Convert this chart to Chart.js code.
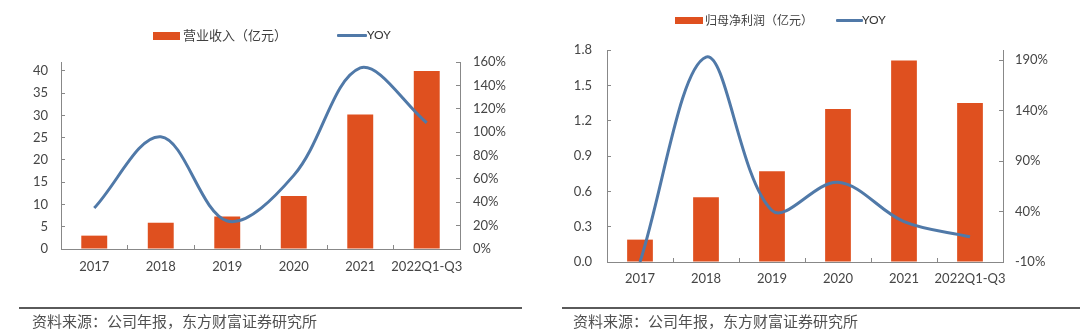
<!DOCTYPE html>
<html lang="zh-CN">
<head>
<meta charset="UTF-8">
<title>营业收入与归母净利润</title>
<script src="https://cdn.jsdelivr.net/npm/chart.js"></script>
<style>
  html, body { margin: 0; padding: 0; background: #fff; }
  body { width: 1080px; height: 334px; position: relative; overflow: hidden; font-family: "Noto Sans CJK SC", sans-serif; }
  .panel { position: absolute; top: 0; width: 540px; height: 334px; }
  .panel canvas { position: absolute; left: 0; top: 0; }
  .abs { position: absolute; white-space: nowrap; }
  .sw-bar { background: #df501f; }
  .sw-line { background: #5079a8; height: 3px; border-radius: 1px; }
  .leg-text { color: #404040; line-height: 16px; }
  .yoy { font-family: Lato, sans-serif; font-size: 12px; color: #333; line-height: 16px; }
  .rule { position: absolute; height: 2px; background: #5a5a5a; top: 307px; }
  .source { position: absolute; top: 311px; font-size: 15px; line-height: 20px; color: #505050; }
</style>
</head>
<body>

<!-- 左图：营业收入 -->
<div class="panel" style="left:0">
  <canvas id="revenueChart" width="540" height="334"></canvas>
  <div class="abs sw-bar" style="left:153px; top:32px; width:27px; height:8px"></div>
  <div class="abs leg-text" style="left:183px; top:27px; font-size:13px">营业收入（亿元）</div>
  <div class="abs sw-line" style="left:337px; top:34px; width:30px"></div>
  <div class="abs yoy" style="left:367px; top:27px">YOY</div>
  <div class="rule" style="left:19px; width:503px"></div>
  <div class="source" style="left:32px">资料来源：公司年报，东方财富证券研究所</div>
</div>

<!-- 右图：归母净利润 -->
<div class="panel" style="left:540px">
  <canvas id="profitChart" width="540" height="334"></canvas>
  <div class="abs sw-bar" style="left:135px; top:17px; width:28px; height:7px"></div>
  <div class="abs leg-text" style="left:165px; top:12px; font-size:12px">归母净利润（亿元）</div>
  <div class="abs sw-line" style="left:296px; top:19px; width:27px"></div>
  <div class="abs yoy" style="left:322px; top:12px">YOY</div>
  <div class="rule" style="left:22px; width:518px"></div>
  <div class="source" style="left:33px">资料来源：公司年报，东方财富证券研究所</div>
</div>

<script>
const years = ['2017', '2018', '2019', '2020', '2021', '2022Q1-Q3'];

// 营业收入（亿元）及同比
const revenue = [3.0, 5.9, 7.3, 11.9, 30.2, 40.0];
const revenueYoy = [35, 96, 24, 63, 155, 108];
const revenueTicks = [0, 5, 10, 15, 20, 25, 30, 35, 40];
const revenueYoyTicks = [0, 20, 40, 60, 80, 100, 120, 140, 160];

// 归母净利润（亿元）及同比
const profit = [0.19, 0.55, 0.77, 1.30, 1.71, 1.35];
const profitYoy = [-10, 193, 41, 69, 30, 15];
const profitTicks = [0, 0.3, 0.6, 0.9, 1.2, 1.5, 1.8];
const profitYoyTicks = [-10, 40, 90, 140, 190];

const ORANGE = '#df501f';
const BLUE = '#5079a8';
const AXIS = '#888888';
const LABEL = '#454545';
const tickFont = { family: 'Lato', size: 13 };

function buildChart(id, cfg) {
  return new Chart(document.getElementById(id), {
    data: {
      labels: years,
      datasets: [
        {
          type: 'line', data: cfg.yoy, yAxisID: 'y1',
          borderColor: BLUE, borderWidth: 3, pointRadius: 0,
          tension: 0.35, order: 0
        },
        {
          type: 'bar', data: cfg.bars, yAxisID: 'y',
          backgroundColor: ORANGE, categoryPercentage: 1, barPercentage: 0.39, order: 1
        }
      ]
    },
    options: {
      responsive: false,
      animation: false,
      devicePixelRatio: 1,
      layout: { padding: { top: cfg.top, left: 0, right: 0, bottom: 0 } },
      plugins: { legend: { display: false }, tooltip: { enabled: false } },
      scales: {
        x: {
          type: 'category', offset: true,
          grid: { offset: true, drawOnChartArea: false, tickLength: -4, color: AXIS },
          border: { color: AXIS, width: 1 },
          ticks: { color: LABEL, font: tickFont, padding: cfg.xPad, maxRotation: 0, autoSkip: false },
          afterFit: s => { s.height = cfg.xHeight; }
        },
        y: {
          position: 'left', min: cfg.leftMin, max: cfg.leftMax,
          afterBuildTicks: s => { s.ticks = cfg.leftTicks.map(v => ({ value: v })); },
          grid: { drawOnChartArea: false, tickLength: -4, color: AXIS },
          border: { color: AXIS, width: 1 },
          ticks: { color: LABEL, font: tickFont, padding: cfg.leftPad, callback: cfg.leftFmt },
          afterFit: s => { s.width = cfg.leftWidth; }
        },
        y1: {
          position: 'right', min: cfg.rightMin, max: cfg.rightMax,
          afterBuildTicks: s => { s.ticks = cfg.rightTicks.map(v => ({ value: v })); },
          grid: { drawOnChartArea: false, tickLength: -4, color: AXIS },
          border: { color: AXIS, width: 1 },
          ticks: { color: LABEL, font: tickFont, padding: cfg.rightPad, callback: v => v + '%' },
          afterFit: s => { s.width = cfg.rightWidth; }
        }
      }
    }
  });
}

buildChart('revenueChart', {
  bars: revenue, yoy: revenueYoy,
  top: 62, xHeight: 85, xPad: 14,
  leftMin: 0, leftMax: 42, leftTicks: revenueTicks, leftFmt: v => v, leftWidth: 61, leftPad: 17,
  rightMin: 0, rightMax: 160, rightTicks: revenueYoyTicks, rightWidth: 80, rightPad: 17
});

buildChart('profitChart', {
  bars: profit, yoy: profitYoy,
  top: 50, xHeight: 72, xPad: 13,
  leftMin: 0, leftMax: 1.8, leftTicks: profitTicks, leftFmt: v => v.toFixed(1), leftWidth: 67, leftPad: 19,
  rightMin: -10, rightMax: 200, rightTicks: profitYoyTicks, rightWidth: 77, rightPad: 16
});
</script>
</body>
</html>
